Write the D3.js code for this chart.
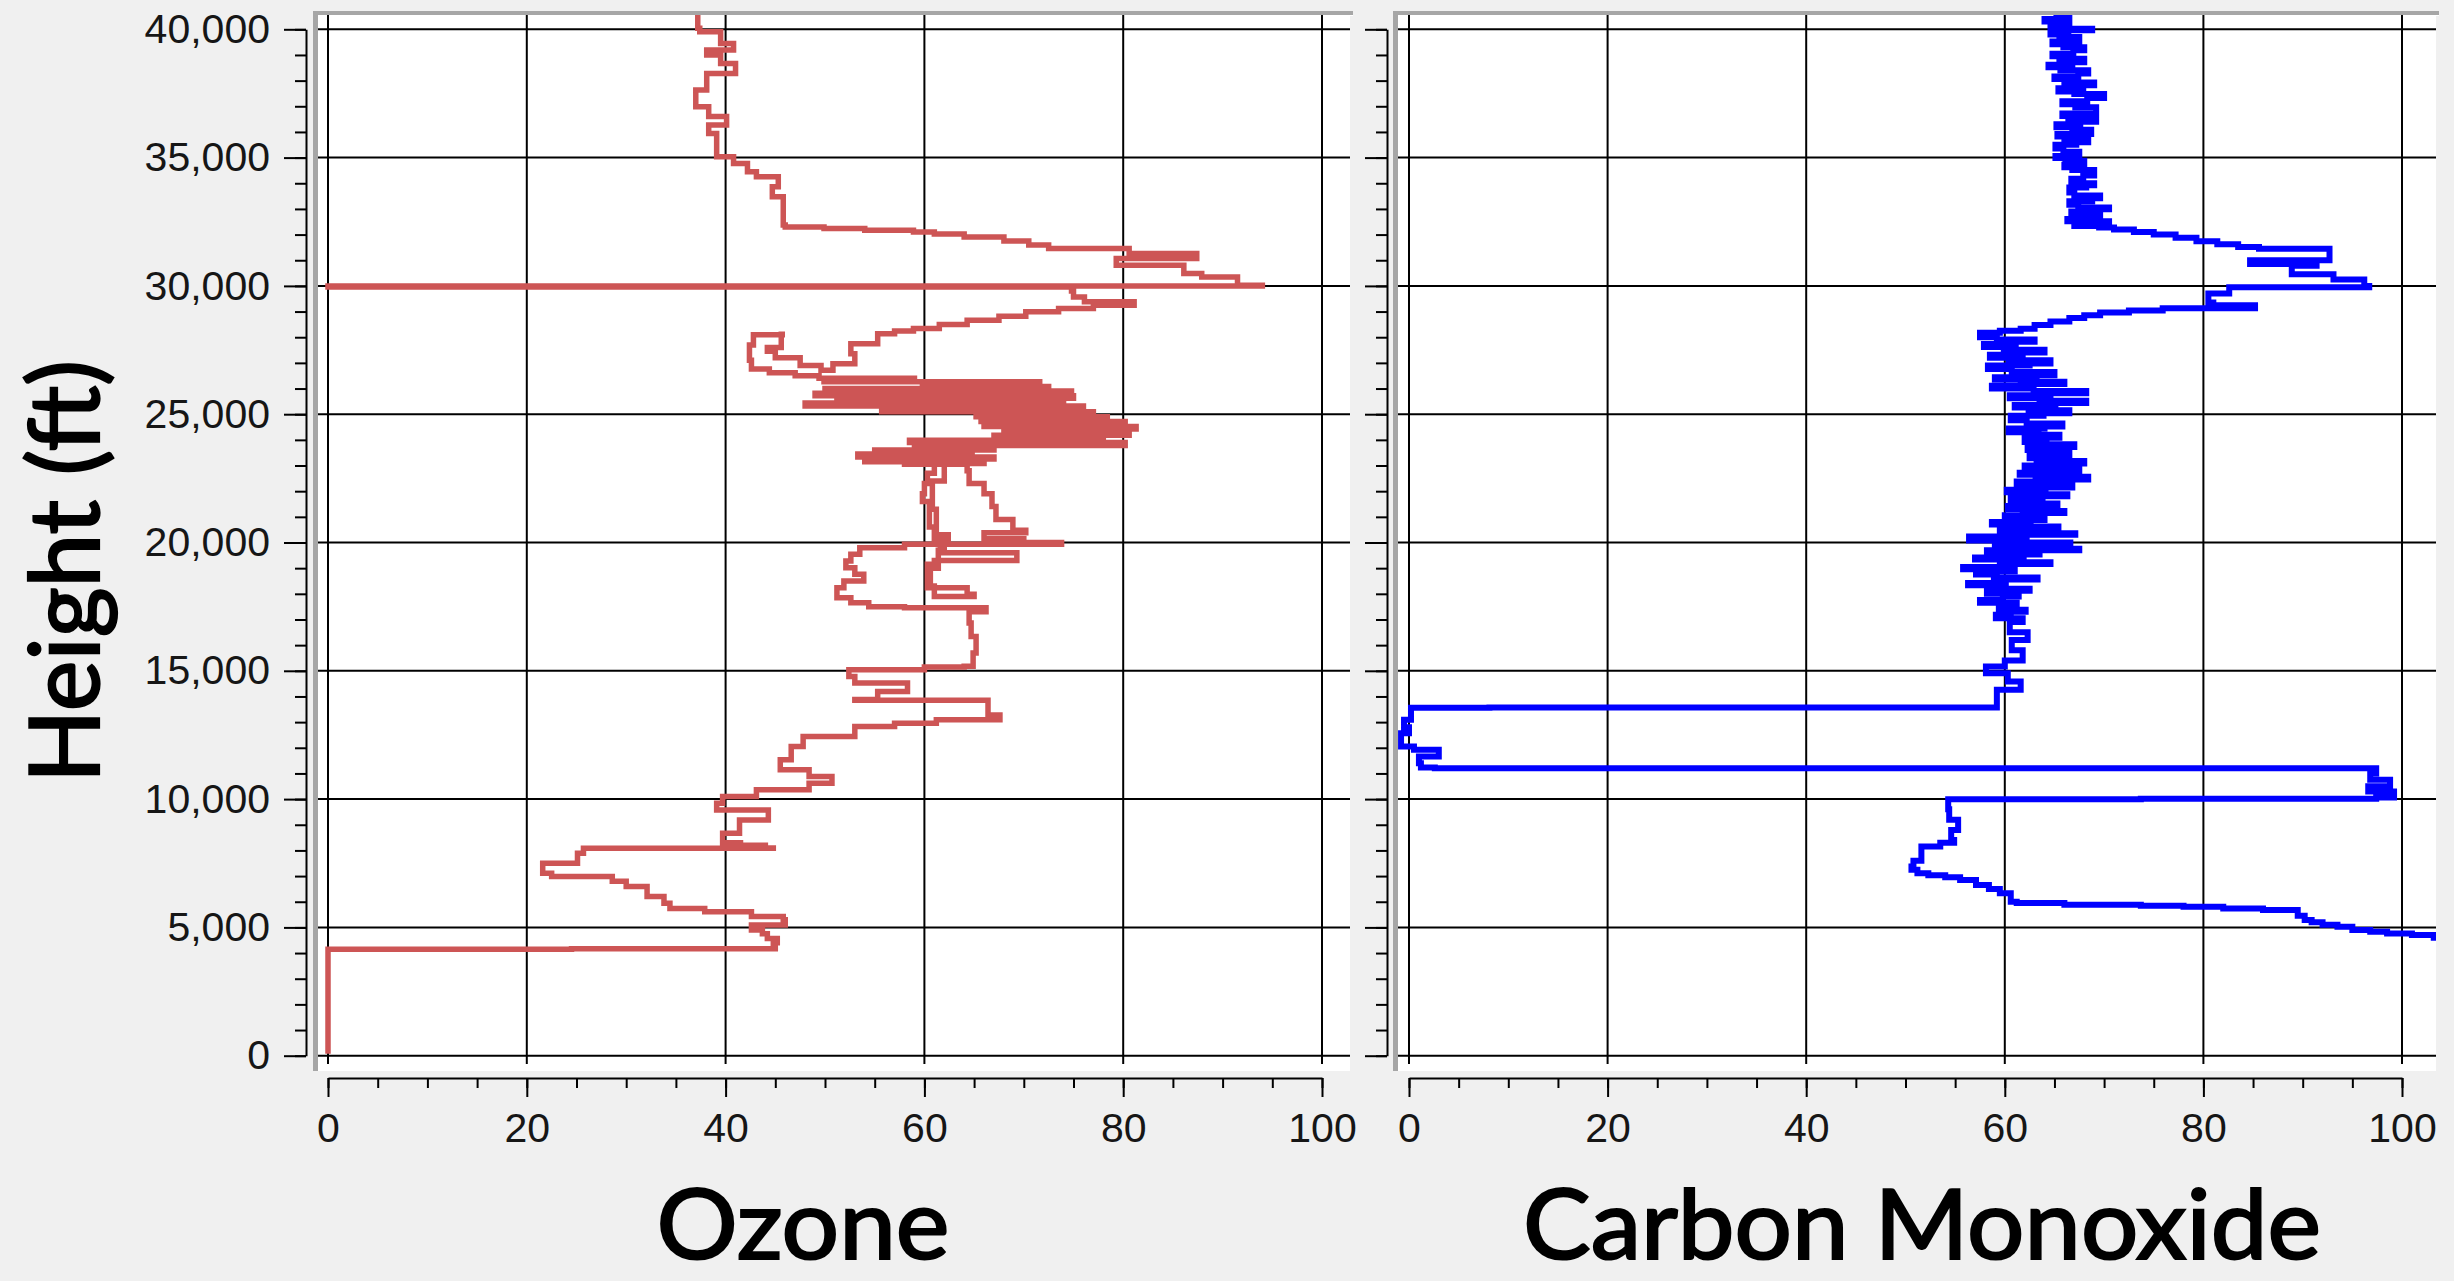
<!DOCTYPE html>
<meta charset="utf-8">

<!-- Load d3.js -->
<script src="https://d3js.org/d3.v7.min.js"></script>

<style>
  body { margin: 0; background: #f0f0f0; }
</style>

<div id="my_dataviz"></div>

<script>

// tick values and titles
var heightTicks = [0, 5000, 10000, 15000, 20000, 25000, 30000, 35000, 40000];
var valueTicks = [0, 20, 40, 60, 80, 100];
var panelTitles = ["Ozone", "Carbon Monoxide"];
var yTitle = "Height (ft)";

// ozone profile, [value, height ft], bottom up
var ozoneProfile = [
  [0, 80], [0, 4150], [24.5, 4170], [45, 4230], [44.8, 4400], [45.2, 4570], [44.2, 4750],
  [43.7, 4900], [42.6, 5090], [46, 5300], [45.8, 5420], [42.6, 5610], [37.9, 5740],
  [34.4, 5940], [33.8, 6200], [32.1, 6590], [30, 6800], [28.6, 6980], [22.5, 7110],
  [21.6, 7300], [21.6, 7500], [25.1, 7890], [25.7, 8080], [44.8, 8090], [44, 8200],
  [41.5, 8300], [39.7, 8670], [41.4, 9190], [44.3, 9580], [39.1, 9840], [39.7, 10100],
  [43.1, 10360], [48.4, 10620], [50.7, 10880], [48.4, 11140], [45.5, 11530], [46.6, 12050],
  [47.8, 12440], [53, 12830], [57, 12960], [61.2, 13090], [67.6, 13280], [66.4, 13610],
  [66.4, 13850], [53, 13880], [55.3, 14190], [58.3, 14520], [53, 14780], [52.4, 15040],
  [60, 15150], [64, 15180], [64.9, 15690], [65.2, 16340], [64.7, 16860], [64.5, 17300],
  [66.2, 17460], [58, 17500], [54.4, 17650], [52.6, 17850], [51.2, 18240], [51.9, 18500],
  [53.9, 18760], [53, 19020], [52.1, 19280], [52.6, 19540], [53.5, 19800], [58, 19930],
  [73.8, 20000], [70, 20150], [66, 20380], [70.2, 20480], [68.9, 20900], [67.2, 21400],
  [66.8, 21900], [66, 22300], [64.5, 22800], [64.3, 23050], [62, 23050], [61, 22700],
  [60.3, 22300], [60, 21900], [59.8, 21600], [60.7, 21300], [61.2, 20800], [61.2, 20300],
  [62.4, 20060], [61.6, 19600], [69.3, 19300], [61, 19150], [60.3, 18800], [60.3, 18240],
  [64.3, 17980], [65, 17900], [61, 18300], [60.6, 19000], [61.4, 19700], [62, 20100],
  [61, 20600], [60.5, 21500], [60.8, 22400], [62, 23050],
  [58, 23080], [66, 23150], [54, 23250], [67, 23330], [53.3, 23450], [64.8, 23520],
  [55, 23600], [67, 23700], [59, 23780], [80.2, 23900], [58.5, 23980], [78, 24100],
  [67, 24180], [80.6, 24300], [68, 24420], [81.3, 24520], [66, 24620], [80.2, 24720],
  [65.7, 24800], [78.4, 24900], [65.2, 24980], [77, 25100], [55.7, 25200], [76, 25320],
  [48, 25440], [74, 25520], [51.2, 25620], [75, 25720], [49, 25820], [74.8, 25900],
  [50, 26000], [72.5, 26080], [59.8, 26200], [71.6, 26260], [49.9, 26360], [59, 26400],
  [49.4, 26500],
  [47, 26620], [44.4, 26760], [42.6, 27100], [42.4, 27700], [42.8, 28100], [45.7, 28120],
  [45.6, 27600], [44.2, 27450], [45, 27200], [47.5, 26900], [49.6, 26710],
  [50.8, 26970], [53, 27360], [52.6, 27750], [55.3, 28140], [57, 28240], [58.9, 28340],
  [61.5, 28500], [64.3, 28660], [67.5, 28820], [70.2, 28990], [73.5, 29120], [77, 29250],
  [81.1, 29380], [76.1, 29570], [75, 29800], [74.8, 29960],
  [0, 30000], [94, 30030], [91.5, 30350], [87.9, 30480], [86.1, 30800], [79.3, 31070],
  [87.4, 31260], [80.6, 31460], [72.5, 31590], [70.5, 31750], [68, 31910], [64, 32020],
  [61, 32100], [58.9, 32170], [54, 32240], [49.9, 32300], [46, 32370],
  [45.8, 32950], [45.8, 33470], [44.7, 33860], [45.3, 34250], [43.1, 34450],
  [42.2, 34770], [40.8, 35030], [39.1, 35100], [39.1, 35940], [38.3, 36270], [40.1, 36600],
  [38.3, 36980], [37, 37630], [38.1, 38280], [41, 38670], [39.5, 39000], [38.1, 39190],
  [40.8, 39450], [39.5, 39900], [37.4, 40040], [37.2, 40560]
];

// carbon monoxide profile, [value, height ft], bottom up
var coProfile = [
  [105, 4600], [103.2, 4700], [101, 4760], [98.5, 4830], [96.8, 4900], [95, 5030],
  [93.5, 5100], [92, 5200], [90.9, 5290], [90.2, 5450], [89.5, 5680], [86, 5740],
  [82, 5800], [78, 5840], [73.7, 5880], [66, 5950], [61.2, 6000], [60.6, 6330],
  [59.5, 6500], [58.4, 6650], [57.1, 6850], [55.5, 6950], [54, 7030], [52.3, 7110],
  [51.2, 7250], [50.6, 7370], [50.8, 7600], [51.6, 8150], [53.5, 8300], [54.9, 8410],
  [54.6, 8800], [55.3, 9200], [54.4, 9600], [54.3, 9990],
  [73.7, 10010], [97.4, 10060], [99.2, 10300], [96.6, 10500], [98.8, 10750], [96.8, 11000],
  [97.4, 11200], [2.6, 11230], [1.2, 11400], [1, 11660], [3, 11920], [0.5, 12050],
  [-0.8, 12570], [0, 12800], [-0.5, 13090], [0.2, 13414], [0.2, 13560], [8.1, 13570],
  [59.2, 13600], [59.2, 13900], [59.2, 14260], [61.6, 14580], [60.3, 14900], [58.1, 15170],
  [60, 15400], [61.8, 15800], [60.7, 16200], [62.3, 16500], [60.5, 16900],
  [61.8, 17050], [59.1, 17180], [60.6, 17300], [62.1, 17380], [59.4, 17520], [61.2, 17650],
  [57.5, 17760], [59.8, 17900], [61.4, 18000], [58.2, 18120], [62.5, 18200], [60.1, 18330],
  [56.3, 18420], [58.9, 18560], [63.3, 18640], [59.2, 18750], [57.1, 18880], [61, 18960],
  [55.8, 19050], [59.5, 19160], [64.6, 19230], [60.8, 19340], [57, 19420], [61.9, 19530],
  [63.5, 19600], [58.2, 19700], [67.5, 19760], [61.4, 19840], [59, 19930], [66.6, 20000],
  [62.2, 20080], [56.4, 20230], [60.5, 20300], [67.1, 20360], [63.4, 20450], [59.5, 20540],
  [65.4, 20620], [61, 20700], [58.7, 20800], [62.6, 20880], [64, 20960], [60, 21060],
  [63, 21150], [66, 21230], [61.8, 21310], [60.3, 21420], [65.3, 21520], [62.7, 21600],
  [60.6, 21720], [63.8, 21800], [66.3, 21880], [62.4, 21960], [60.2, 22060], [64.1, 22140],
  [66.8, 22230], [61.2, 22380], [64.4, 22460], [68.4, 22560], [63.1, 22640], [61.5, 22720],
  [65.6, 22800], [67.5, 22880], [62, 23000], [64.8, 23080], [68, 23180], [63.2, 23280],
  [62.5, 23400], [66.5, 23520], [63.8, 23600], [62.3, 23720], [67, 23830], [64.2, 23920],
  [62, 24080], [65.5, 24200], [63.4, 24300], [60.4, 24440], [64, 24520], [65.8, 24640],
  [62.2, 24760], [60.6, 24940], [63.9, 25040], [66.5, 25150], [62.4, 25260], [61, 25360],
  [65.1, 25440], [68.2, 25520], [63.5, 25620], [60.5, 25740], [64.6, 25820], [68.2, 25900],
  [62.9, 26000], [58.7, 26110], [62.1, 26180], [66, 26260], [61.6, 26350], [59, 26440],
  [63.2, 26520], [65, 26640], [60.7, 26760], [58.3, 26900], [62.5, 26980], [64.6, 27100],
  [60.4, 27200], [58.5, 27320], [61.8, 27400], [64, 27510], [59.9, 27620], [57.9, 27740],
  [61.1, 27820], [63, 27910], [59.2, 28000], [57.5, 28100], [57.5, 28170],
  [59.5, 28250], [61.6, 28330], [63, 28480], [64.6, 28610], [66.5, 28750], [68, 28860],
  [69.6, 28960], [72.5, 29040], [75.9, 29130], [85.2, 29250], [81, 29350], [80.5, 29700],
  [82.6, 29950], [96.7, 30000], [96.2, 30250], [93.1, 30450], [88.9, 30790], [91.4, 30850],
  [84.7, 31000], [92.7, 31200], [92.7, 31450], [85.6, 31520], [83.5, 31620], [81.4, 31740],
  [79.3, 31880], [77.2, 32000], [75, 32100], [73, 32200], [71, 32280], [69.5, 32330],
  [67, 32380], [69.1, 32450], [70.5, 32520], [66.3, 32610], [68, 32700], [69.6, 32760],
  [66.7, 32900], [68.3, 32990], [70.5, 33060], [67.4, 33160], [66.5, 33300], [68.8, 33420],
  [69.6, 33520], [67, 33640], [66.5, 33830], [68.2, 33920], [69, 34000], [66.7, 34180],
  [67.9, 34300], [69, 34520], [66.8, 34620], [66, 34720], [68, 34880], [66.1, 34980],
  [65.1, 35060], [67.5, 35230], [65.9, 35350], [65.1, 35500], [67.2, 35600], [68.4, 35700],
  [66, 35820], [65.3, 35920], [68.7, 36090], [66.8, 36180], [65.2, 36300], [67.6, 36400],
  [69.2, 36500], [66.4, 36620], [65.8, 36720], [69.2, 36960], [67.1, 37080], [65.8, 37200],
  [68.3, 37320], [70, 37480], [67, 37580], [65.4, 37700], [67.9, 37820], [69, 37930],
  [66, 38060], [65, 38160], [67.4, 38280], [68.4, 38400], [65.6, 38520], [64.4, 38620],
  [66.8, 38720], [68, 38850], [65.5, 38950], [64.8, 39050], [66.9, 39180], [68, 39300],
  [65.9, 39420], [64.8, 39520], [67.5, 39700], [65.5, 39800], [64.6, 39900], [66.4, 39960],
  [68.8, 40020], [65.9, 40100], [64.6, 40160], [66.5, 40300], [64, 40400], [65.2, 40480],
  [66.5, 40560]
];

var width = 2454, height = 1281;
var plotTop = 15, plotBottom = 1071;

var svg = d3.select("#my_dataviz")
  .append("svg")
    .attr("width", width)
    .attr("height", height)
    .style("display", "block")
    .style("background", "#f0f0f0");

// shared height scale
var y = d3.scaleLinear()
  .domain([0, 40000])
  .range([1055.7, 29.3]);

var panels = [
  {title: panelTitles[0], data: ozoneProfile, color: "#cd5555", lineWidth: 5.5, x0: 328, x100: 1322,
   left: 318, right: 1350, axisX: 306, titleX: 803, titleLen: 293, labels: true},
  {title: panelTitles[1], data: coProfile, color: "#0000ff", lineWidth: 6, x0: 1409, x100: 2402,
   left: 1398, right: 2436, axisX: 1387, titleX: 1922, titleLen: 798, labels: false}
];

var titleFont = "Futura, 'Century Gothic', Lato, sans-serif";
var tickFont = "'Liberation Sans', Arial, sans-serif";

panels.forEach(function(p, i) {

  var x = d3.scaleLinear()
    .domain([0, 100])
    .range([p.x0, p.x100]);

  // grey frame on top and left, white plot area
  svg.append("rect")
    .attr("x", p.left - 5).attr("y", plotTop - 4)
    .attr("width", p.right - p.left + 8).attr("height", plotBottom - plotTop + 4)
    .attr("fill", "#a6a6a6");
  svg.append("rect")
    .attr("x", p.left).attr("y", plotTop)
    .attr("width", p.right - p.left + 3).attr("height", plotBottom - plotTop)
    .attr("fill", "#ffffff");
  svg.append("rect")
    .attr("x", p.right).attr("y", plotTop + 1)
    .attr("width", 3).attr("height", plotBottom - plotTop)
    .attr("fill", "#f0f0f0");

  svg.append("clipPath")
    .attr("id", "clip" + i)
    .append("rect")
      .attr("x", p.left).attr("y", plotTop)
      .attr("width", p.right - p.left).attr("height", plotBottom - plotTop);

  var plot = svg.append("g").attr("clip-path", "url(#clip" + i + ")");

  // grid
  plot.selectAll(".vgrid")
    .data(valueTicks)
    .enter()
    .append("line")
      .attr("x1", function(d) { return x(d); })
      .attr("x2", function(d) { return x(d); })
      .attr("y1", plotTop)
      .attr("y2", 1064)
      .attr("stroke", "#000")
      .attr("stroke-width", 2);

  plot.selectAll(".hgrid")
    .data(heightTicks)
    .enter()
    .append("line")
      .attr("x1", p.left)
      .attr("x2", p.right)
      .attr("y1", function(d) { return y(d); })
      .attr("y2", function(d) { return y(d); })
      .attr("stroke", "#000")
      .attr("stroke-width", 2);

  // profile line, stepped like the logged samples
  var line = d3.line()
    .curve(d3.curveStepAfter)
    .x(function(d) { return x(d[0]); })
    .y(function(d) { return y(d[1]); });

  plot.append("path")
    .datum(p.data)
    .attr("d", line)
    .attr("fill", "none")
    .attr("stroke", p.color)
    .attr("stroke-width", p.lineWidth)
    .attr("stroke-linejoin", "miter");

  // left axis, minor then major
  svg.append("g")
    .attr("transform", "translate(" + p.axisX + ",0)")
    .call(d3.axisLeft(y).tickValues(d3.range(0, 40001, 1000)).tickSize(11).tickSizeOuter(0).tickFormat(""))
    .call(function(g) { g.selectAll("line, path").attr("stroke", "#000").attr("stroke-width", 2); });

  var yAxis = svg.append("g")
    .attr("transform", "translate(" + p.axisX + ",0)")
    .call(d3.axisLeft(y).tickValues(heightTicks).tickSize(22).tickSizeOuter(0).tickPadding(14)
      .tickFormat(p.labels ? d3.format(",") : ""));
  yAxis.selectAll("line").attr("stroke", "#000").attr("stroke-width", 2);
  yAxis.select(".domain").remove();
  yAxis.selectAll("text")
    .attr("font-family", tickFont)
    .attr("font-size", 41)
    .attr("fill", "#161616");

  // bottom axis
  svg.append("g")
    .attr("transform", "translate(0,1078)")
    .call(d3.axisBottom(x).tickValues(d3.range(0, 101, 5)).tickSize(10).tickSizeOuter(0).tickFormat(""))
    .call(function(g) { g.selectAll("line, path").attr("stroke", "#000").attr("stroke-width", 2); });

  var xAxis = svg.append("g")
    .attr("transform", "translate(0,1078)")
    .call(d3.axisBottom(x).tickValues(valueTicks).tickSize(19).tickSizeOuter(0).tickPadding(16));
  xAxis.select(".domain").remove();
  xAxis.selectAll("line").attr("stroke", "#000").attr("stroke-width", 2);
  xAxis.selectAll("text")
    .attr("font-family", tickFont)
    .attr("font-size", 41)
    .attr("fill", "#161616");

  // panel title
  svg.append("text")
    .attr("x", p.titleX)
    .attr("y", 1259)
    .attr("text-anchor", "middle")
    .attr("font-family", titleFont)
    .attr("font-size", 97)
    .attr("fill", "#000")
    .attr("stroke", "#000")
    .attr("stroke-width", 2.2)
    .attr("textLength", p.titleLen)
    .attr("lengthAdjust", "spacingAndGlyphs")
    .text(p.title);
});

// y title
svg.append("text")
  .attr("transform", "translate(99,571.5) rotate(-90)")
  .attr("text-anchor", "middle")
  .attr("font-family", titleFont)
  .attr("font-size", 97)
  .attr("fill", "#000")
  .attr("stroke", "#000")
  .attr("stroke-width", 2.2)
  .attr("textLength", 423)
  .attr("lengthAdjust", "spacingAndGlyphs")
  .text(yTitle);

</script>
